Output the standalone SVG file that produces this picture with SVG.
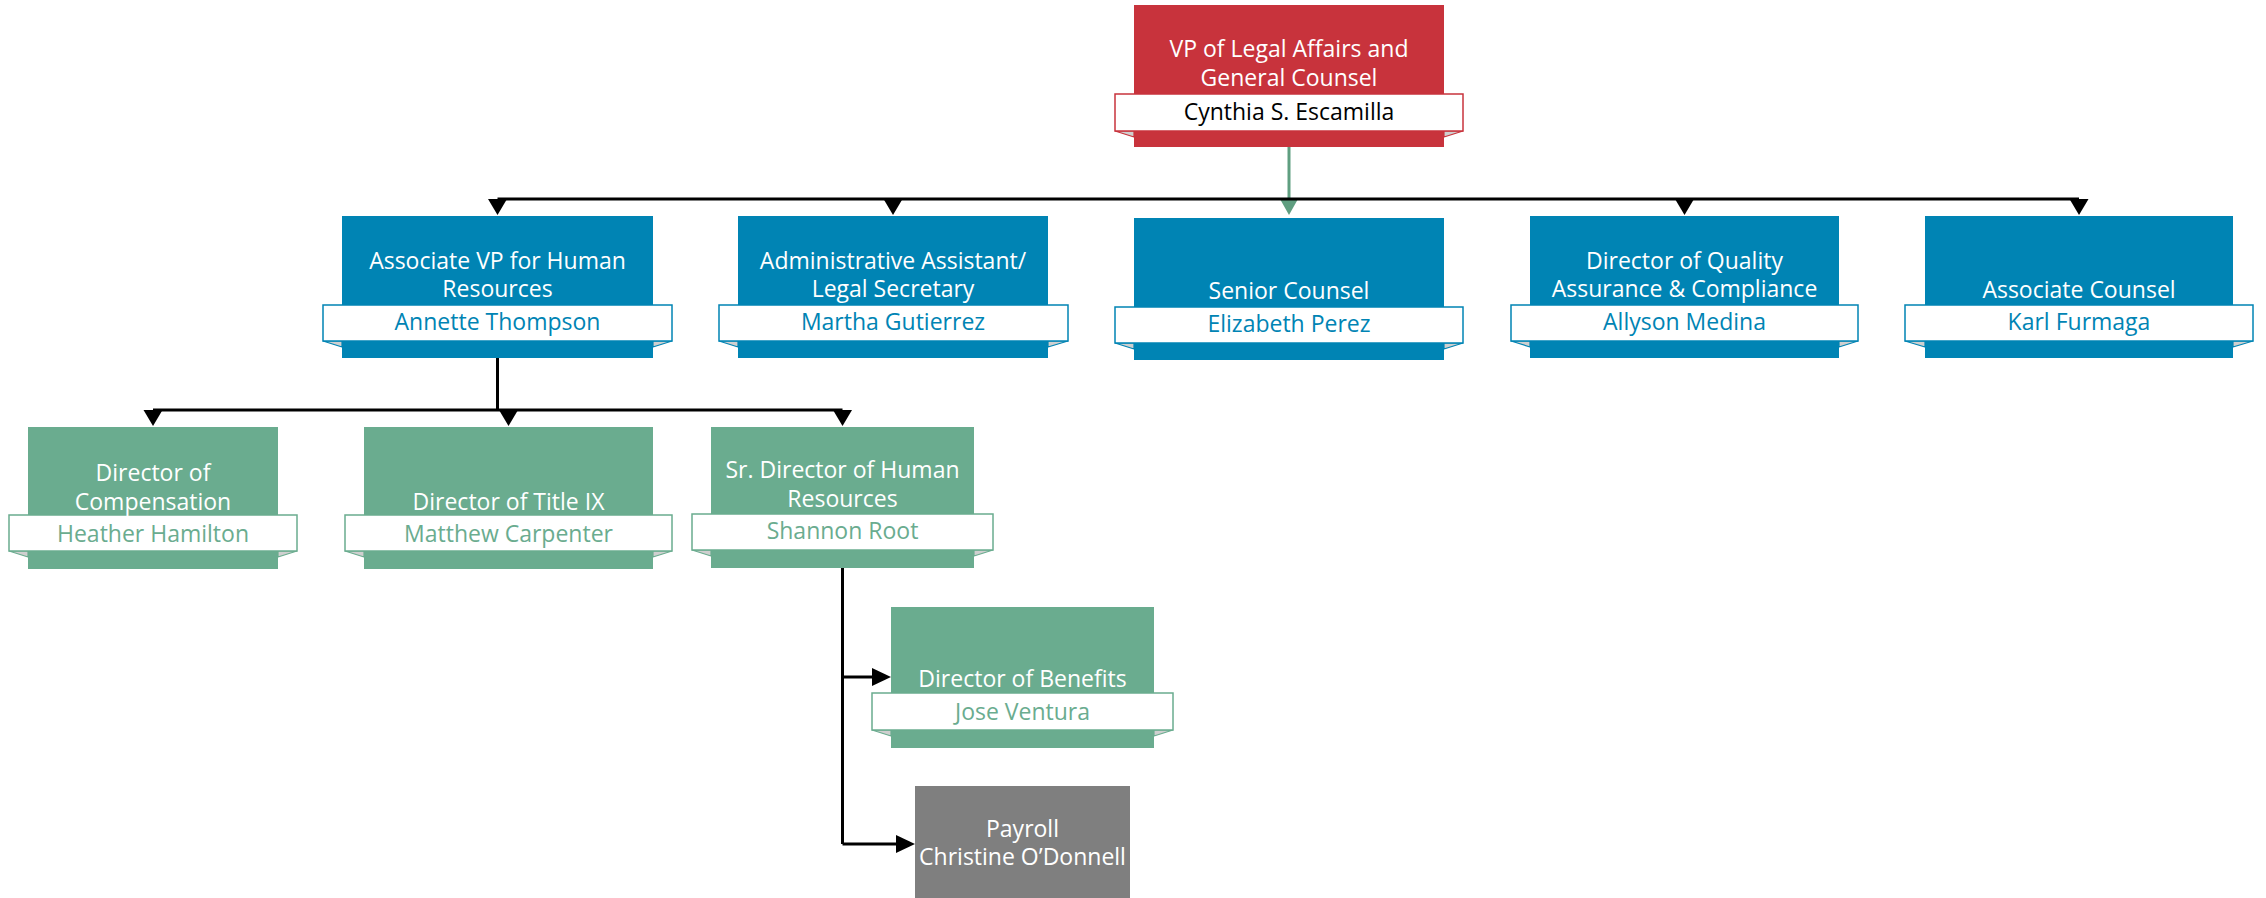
<svg xmlns="http://www.w3.org/2000/svg" width="2266" height="898" viewBox="0 0 2266 898">
<style>
.t{font-family:"Open Sans","Liberation Sans",sans-serif;font-size:23px;text-anchor:middle;fill:#fff}
.n{font-family:"Open Sans","Liberation Sans",sans-serif;font-size:23px;text-anchor:middle}
.red{fill:#c8333c}
.blue{fill:#0084b4}
.green{fill:#6aac8f}
.gray{fill:#7f7f7f}
.bred{fill:#fff;stroke:#c8333c;stroke-width:1.5}
.bblue{fill:#fff;stroke:#0084b4;stroke-width:1.5}
.bgreen{fill:#fff;stroke:#6aac8f;stroke-width:1.5}
.tail{fill:#cfcfcf;stroke-width:1.2}
.cb{fill:#0084b4}
.cg{fill:#6aac8f}
.ln{stroke:#000;stroke-width:3;fill:none}
.ah{fill:#000}
</style>
<rect width="2266" height="898" fill="#fff"/>
<g id="connectors">
<line x1="1289" y1="147" x2="1289" y2="201" stroke="#5f9e80" stroke-width="3"/>
<polygon points="1280,199 1298,199 1289,215" fill="#5f9e80"/>
<line class="ln" x1="497.5" y1="199" x2="2079" y2="199"/>
<polygon class="ah" points="488,199 507,199 497.5,215"/>
<polygon class="ah" points="883.5,199 902.5,199 893,215"/>
<polygon class="ah" points="1675,199 1694,199 1684.5,215"/>
<polygon class="ah" points="2069.5,199 2088.5,199 2079,215"/>
<line class="ln" x1="497.5" y1="358" x2="497.5" y2="410"/>
<line class="ln" x1="153" y1="410" x2="842.5" y2="410"/>
<polygon class="ah" points="143.5,410 162.5,410 153,426"/>
<polygon class="ah" points="499,410 518,410 508.5,426"/>
<polygon class="ah" points="833,410 852,410 842.5,426"/>
<line class="ln" x1="842.5" y1="568" x2="842.5" y2="844"/>
<line class="ln" x1="842.5" y1="677" x2="874" y2="677"/>
<polygon class="ah" points="872,668 872,686 891,677"/>
<line class="ln" x1="842.5" y1="844" x2="898" y2="844"/>
<polygon class="ah" points="896,835 896,853 915,844"/>
</g>
<g id="vp">
<rect class="red" x="1134" y="5" width="310" height="142"/>
<polygon class="tail" stroke="#c8333c" points="1115,131 1134,131 1134,137"/>
<polygon class="tail" stroke="#c8333c" points="1463,131 1444,131 1444,137"/>
<rect class="bred" x="1115" y="94" width="348" height="37"/>
<text class="t" x="1289" y="57">VP of Legal Affairs and</text>
<text class="t" x="1289" y="86">General Counsel</text>
<text class="n" x="1289" y="120" fill="#000">Cynthia S. Escamilla</text>
</g>
<g id="avp-hr">
<rect class="blue" x="342" y="216" width="311" height="142"/>
<polygon class="tail" stroke="#0084b4" points="323,341 342,341 342,347"/>
<polygon class="tail" stroke="#0084b4" points="672,341 653,341 653,347"/>
<rect class="bblue" x="323" y="305" width="349" height="36"/>
<text class="t" x="497.5" y="269">Associate VP for Human</text>
<text class="t" x="497.5" y="297">Resources</text>
<text class="n cb" x="497.5" y="330">Annette Thompson</text>
</g>
<g id="admin-assistant">
<rect class="blue" x="738" y="216" width="310" height="142"/>
<polygon class="tail" stroke="#0084b4" points="719,341 738,341 738,347"/>
<polygon class="tail" stroke="#0084b4" points="1068,341 1048,341 1048,347"/>
<rect class="bblue" x="719" y="305" width="349" height="36"/>
<text class="t" x="893" y="269">Administrative Assistant/</text>
<text class="t" x="893" y="297">Legal Secretary</text>
<text class="n cb" x="893" y="330">Martha Gutierrez</text>
</g>
<g id="senior-counsel">
<rect class="blue" x="1134" y="218" width="310" height="142"/>
<polygon class="tail" stroke="#0084b4" points="1115,343 1134,343 1134,349"/>
<polygon class="tail" stroke="#0084b4" points="1463,343 1444,343 1444,349"/>
<rect class="bblue" x="1115" y="307" width="348" height="36"/>
<text class="t" x="1289" y="299">Senior Counsel</text>
<text class="n cb" x="1289" y="332">Elizabeth Perez</text>
</g>
<g id="director-qa">
<rect class="blue" x="1530" y="216" width="309" height="142"/>
<polygon class="tail" stroke="#0084b4" points="1511,341 1530,341 1530,347"/>
<polygon class="tail" stroke="#0084b4" points="1858,341 1839,341 1839,347"/>
<rect class="bblue" x="1511" y="305" width="347" height="36"/>
<text class="t" x="1684.5" y="269">Director of Quality</text>
<text class="t" x="1684.5" y="297">Assurance &amp; Compliance</text>
<text class="n cb" x="1684.5" y="330">Allyson Medina</text>
</g>
<g id="associate-counsel">
<rect class="blue" x="1925" y="216" width="308" height="142"/>
<polygon class="tail" stroke="#0084b4" points="1905,341 1925,341 1925,347"/>
<polygon class="tail" stroke="#0084b4" points="2253,341 2233,341 2233,347"/>
<rect class="bblue" x="1905" y="305" width="348" height="36"/>
<text class="t" x="2079" y="298">Associate Counsel</text>
<text class="n cb" x="2079" y="330">Karl Furmaga</text>
</g>
<g id="director-compensation">
<rect class="green" x="28" y="427" width="250" height="142"/>
<polygon class="tail" stroke="#6aac8f" points="9,551 28,551 28,557"/>
<polygon class="tail" stroke="#6aac8f" points="297,551 278,551 278,557"/>
<rect class="bgreen" x="9" y="515" width="288" height="36"/>
<text class="t" x="153" y="481">Director of</text>
<text class="t" x="153" y="510">Compensation</text>
<text class="n cg" x="153" y="542">Heather Hamilton</text>
</g>
<g id="director-title-ix">
<rect class="green" x="364" y="427" width="289" height="142"/>
<polygon class="tail" stroke="#6aac8f" points="345,551 364,551 364,557"/>
<polygon class="tail" stroke="#6aac8f" points="672,551 653,551 653,557"/>
<rect class="bgreen" x="345" y="515" width="327" height="36"/>
<text class="t" x="508.5" y="510">Director of Title IX</text>
<text class="n cg" x="508.5" y="542">Matthew Carpenter</text>
</g>
<g id="sr-director-hr">
<rect class="green" x="711" y="427" width="263" height="141"/>
<polygon class="tail" stroke="#6aac8f" points="692,550 711,550 711,556"/>
<polygon class="tail" stroke="#6aac8f" points="993,550 974,550 974,556"/>
<rect class="bgreen" x="692" y="514" width="301" height="36"/>
<text class="t" x="842.5" y="478">Sr. Director of Human</text>
<text class="t" x="842.5" y="507">Resources</text>
<text class="n cg" x="842.5" y="539">Shannon Root</text>
</g>
<g id="director-benefits">
<rect class="green" x="891" y="607" width="263" height="141"/>
<polygon class="tail" stroke="#6aac8f" points="872,730 891,730 891,736"/>
<polygon class="tail" stroke="#6aac8f" points="1173,730 1154,730 1154,736"/>
<rect class="bgreen" x="872" y="693" width="301" height="37"/>
<text class="t" x="1022.5" y="687">Director of Benefits</text>
<text class="n cg" x="1022.5" y="720">Jose Ventura</text>
</g>
<g id="payroll">
<rect class="gray" x="915" y="786" width="215" height="112"/>
<text class="t" x="1022.5" y="837">Payroll</text>
<text class="t" x="1022.5" y="865">Christine O’Donnell</text>
</g>
</svg>
